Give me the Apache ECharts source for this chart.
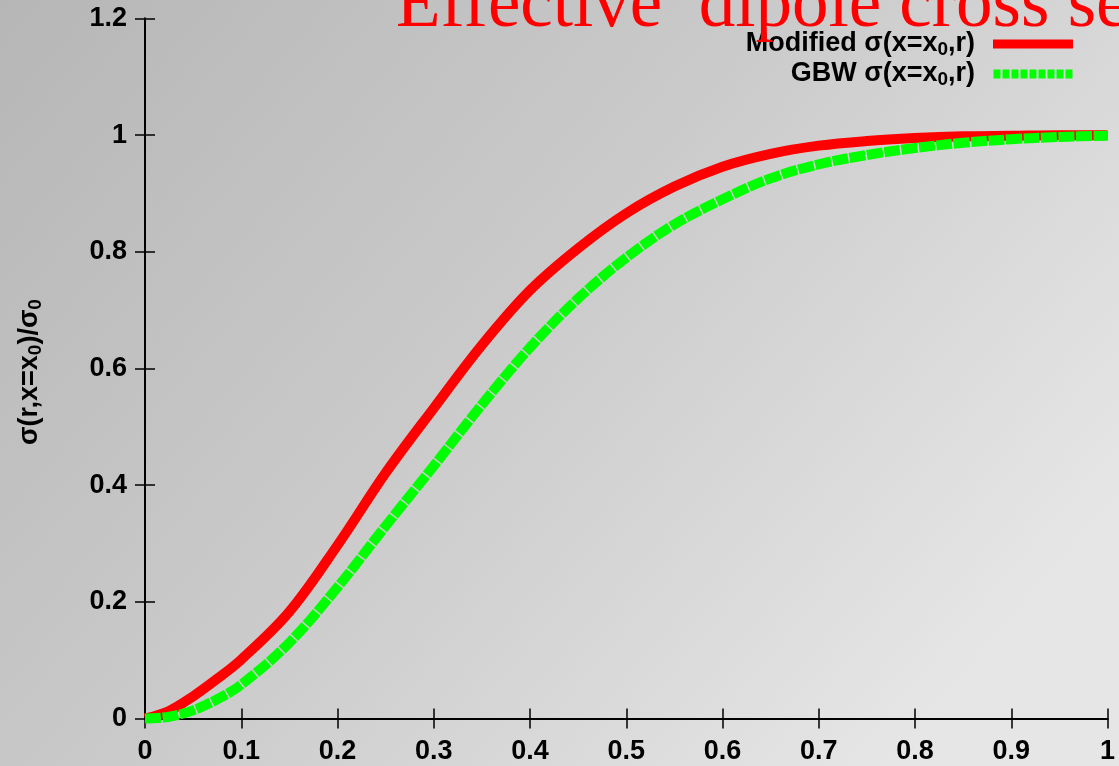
<!DOCTYPE html>
<html>
<head>
<meta charset="utf-8">
<script src="https://cdn.jsdelivr.net/npm/echarts@6/dist/echarts.min.js"></script>
<style>
  html, body { margin: 0; padding: 0; }
  #chart { width: 1119px; height: 766px; }
</style>
</head>
<body>
<div id="chart"></div>
<script>
// r values (x axis) and the two cross sections
const rValues = [0, 0.025, 0.05, 0.075, 0.1, 0.15, 0.2, 0.25, 0.3, 0.35, 0.4, 0.45, 0.5, 0.55, 0.6, 0.65, 0.7, 0.75, 0.8, 0.85, 0.9, 0.95, 1.0]
const modifiedSigma = [0, 0.013, 0.038, 0.068, 0.101, 0.183, 0.297, 0.421, 0.532, 0.64, 0.734, 0.806, 0.866, 0.912, 0.946, 0.968, 0.982, 0.99, 0.995, 0.998, 0.999, 1.0, 1.0]
const gbwSigma = [0, 0.003, 0.014, 0.033, 0.058, 0.13, 0.225, 0.33, 0.433, 0.538, 0.636, 0.72, 0.79, 0.847, 0.89, 0.926, 0.95, 0.966, 0.978, 0.987, 0.993, 0.997, 0.999]
const seriesNames = ['Modified', 'GBW']
const xTicks = [0, 0.1, 0.2, 0.3, 0.4, 0.5, 0.6, 0.7, 0.8, 0.9, 1]
const yTicks = [0, 0.2, 0.4, 0.6, 0.8, 1, 1.2]

const sans = 'Liberation Sans'
const toPairs = (xs, ys) => xs.map((x, i) => [x, ys[i]])

// gnuplot style: border on all sides, ticks pointing inward
const axisCommon = {
  type: 'value',
  axisLine: { show: true, lineStyle: { color: '#000', width: 2 } },
  axisTick: { show: true, inside: true, length: 10, lineStyle: { color: '#000', width: 1.5 } },
  splitLine: { show: false }
}

const myChart = echarts.init(document.getElementById('chart'))
const option = {
  animation: false,
  backgroundColor: {
    type: 'linear', x: 0, y: 0, x2: 0.8, y2: 1,
    colorStops: [
      { offset: 0, color: '#b6b6b6' },
      { offset: 0.5, color: '#cacaca' },
      { offset: 1, color: '#e6e6e6' }
    ]
  },
  grid: { left: 145, right: 11.5, top: 18.5, bottom: 47.5 },
  xAxis: [
    Object.assign({}, axisCommon, {
      min: xTicks[0], max: xTicks[xTicks.length - 1], interval: 0.1,
      axisLabel: { color: '#000', fontFamily: sans, fontWeight: 'bold', fontSize: 27, margin: 20 }
    }),
    Object.assign({}, axisCommon, {
      position: 'top', min: 0, max: 1, interval: 0.1,
      axisLabel: { show: false }
    })
  ],
  yAxis: [
    Object.assign({}, axisCommon, {
      min: yTicks[0], max: yTicks[yTicks.length - 1], interval: 0.2,
      axisLabel: { color: '#000', fontFamily: sans, fontWeight: 'bold', fontSize: 27, margin: 18 }
    }),
    Object.assign({}, axisCommon, {
      position: 'right', min: 0, max: 1.2, interval: 0.2,
      axisLabel: { show: false }
    })
  ],
  legend: {
    orient: 'vertical',
    right: 41,
    top: 24,
    align: 'right',
    itemWidth: 80,
    itemHeight: 9,
    itemGap: 0,
    data: [
      { name: seriesNames[0], icon: 'rect' },
      { name: seriesNames[1], icon: 'path://M0,0h7v9h-7z M9,0h7v9h-7z M18,0h7v9h-7z M27,0h7v9h-7z M36,0h7v9h-7z M45,0h7v9h-7z M54,0h7v9h-7z M63,0h7v9h-7z M72,0h7v9h-7z' }
    ],
    formatter: name => name + ' σ(x=x{sub|0},r)',
    textStyle: {
      color: '#000',
      fontFamily: sans,
      fontWeight: 'bold',
      fontSize: 27,
      lineHeight: 30,
      padding: [0, 13, 0, 0],
      rich: {
        sub: { fontFamily: sans, fontWeight: 'bold', fontSize: 19, lineHeight: 19, verticalAlign: 'bottom', color: '#000' }
      }
    }
  },
  graphic: [
    {
      // title, cut off by the top of the picture like the original
      type: 'text',
      left: 396,
      top: -30,
      z: 100,
      style: {
        text: 'Effective  dipole cross section',
        fill: '#ff0000',
        font: '73px "Liberation Serif"'
      }
    },
    {
      type: 'text',
      x: 30,
      y: 372,
      rotation: Math.PI / 2,
      style: {
        text: 'σ(r,x=x{sub|0})/σ{sub|0}',
        fill: '#000',
        font: 'bold 27px "Liberation Sans"',
        align: 'center',
        verticalAlign: 'middle',
        lineHeight: 30,
        rich: {
          sub: { fontFamily: sans, fontWeight: 'bold', fontSize: 19, lineHeight: 19, verticalAlign: 'bottom', fill: '#000' }
        }
      }
    }
  ],
  series: [
    {
      name: seriesNames[0],
      type: 'line',
      symbol: 'none',
      smooth: 0.35,
      clip: false,
      color: '#ff0000',
      lineStyle: { color: '#ff0000', width: 10 },
      data: toPairs(rValues, modifiedSigma)
    },
    {
      name: seriesNames[1],
      type: 'line',
      symbol: 'none',
      smooth: 0.35,
      clip: false,
      color: '#00ff00',
      lineStyle: { color: '#00ff00', width: 10, type: [16, 1.5], cap: 'butt' },
      data: toPairs(rValues, gbwSigma)
    }
  ]
}
myChart.setOption(option)
</script>
</body>
</html>
